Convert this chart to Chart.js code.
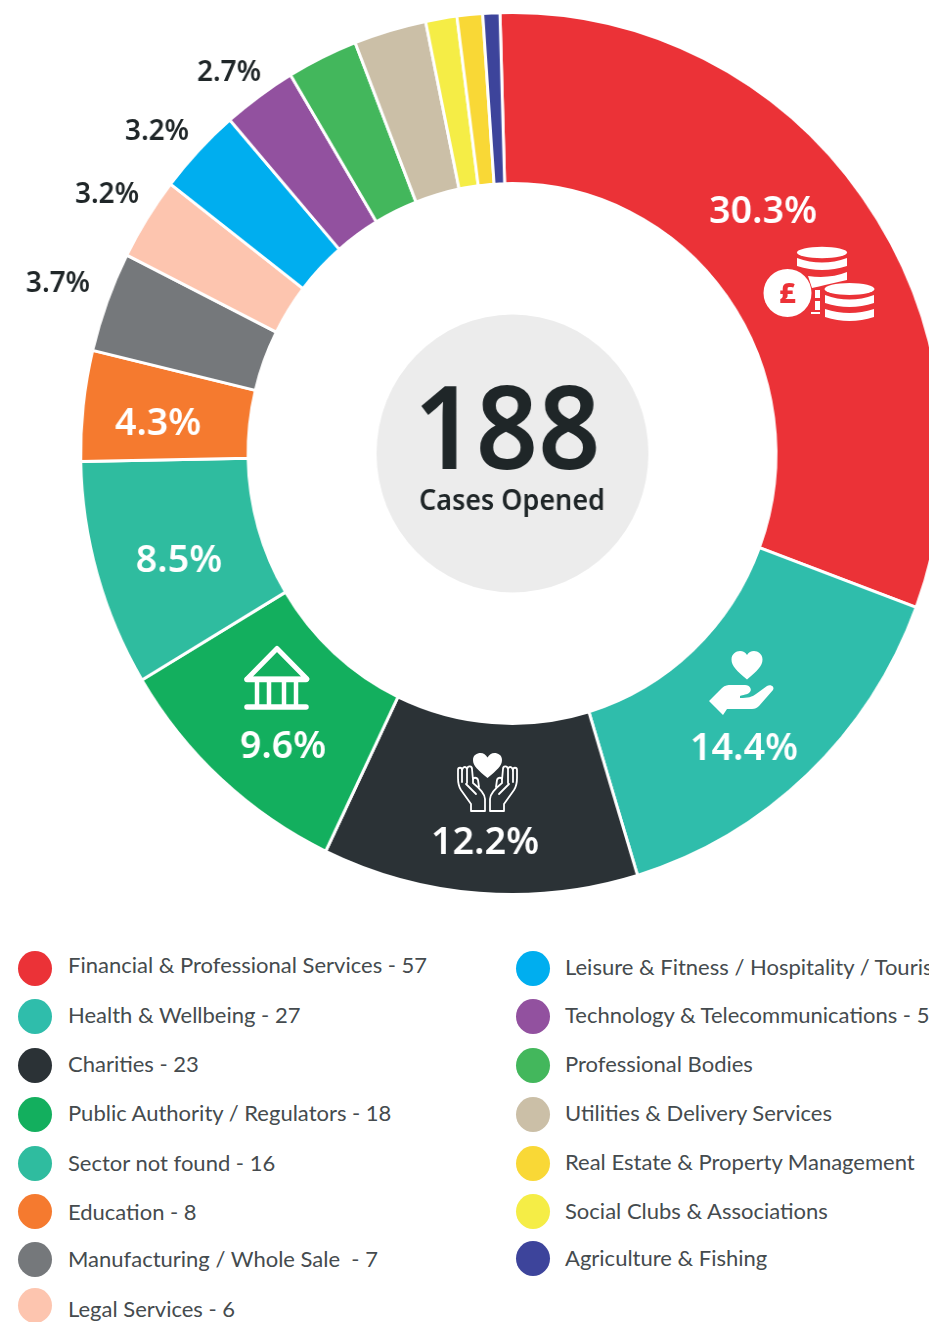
<!DOCTYPE html>
<html>
<head>
<meta charset="utf-8">
<title>Cases Opened</title>
<script src="https://cdn.jsdelivr.net/npm/chart.js@4/dist/chart.umd.min.js"></script>
<style>
    html, body { margin: 0; padding: 0; background: #fff; width: 929px; height: 1322px; overflow: hidden; }
    #stage { position: relative; width: 929px; height: 1322px; overflow: hidden; }
    /* the reference ring is slightly squashed sideways */
    #myChart { position: absolute; left: 0; top: 0; transform-origin: 0 0; transform: scaleX(0.978); }
    #icons { position: absolute; left: 0; top: 0; }
    .legend-dot { position: absolute; width: 34px; height: 35px; border-radius: 50%; }
    .legend-text { position: absolute; font: 400 22px Lato, "Noto Sans", sans-serif; color: #454b4e; white-space: pre; transform: translateY(-50%); }
</style>
</head>
<body>
<div id="stage">
    <canvas id="myChart" width="1047" height="907"></canvas>
    <svg id="icons" width="929" height="907" fill="#fff">
        <!-- coins -->
        <g>
            <ellipse cx="822" cy="252.5" rx="25" ry="5.8"/>
            <path d="M797 258 Q822 267 847 258 V266 Q822 274 797 266Z"/>
            <path d="M808 276 Q830 279 847 272 V280 Q825 285 812 288Z"/>
            <path d="M815 290 h5 v8 h-5Z M815 301 h5 v9 h-5Z M811 312 h9 v2 h-9Z"/>
            <ellipse cx="849.5" cy="289" rx="25" ry="6"/>
            <path d="M825 295 Q849.5 304 874 295 V303 Q849.5 311 825 303Z"/>
            <path d="M825 309 Q849.5 317 874 309 V317 Q849.5 325 825 317Z"/>
            <circle cx="787.5" cy="293" r="24"/>
        </g>
        <text x="787.5" y="303" text-anchor="middle" font-family="'Noto Sans'" font-weight="800" font-size="29" fill="#EC3237">£</text>
        <!-- temple -->
        <g>
            <path d="M247 679 L277 648.5 L307 679Z" fill="none" stroke="#fff" stroke-width="5" stroke-linejoin="round"/>
            <path d="M247 679.5 H306" stroke="#fff" stroke-width="5.5" stroke-linecap="round"/>
            <path d="M247 707 H306" stroke="#fff" stroke-width="5.5" stroke-linecap="round"/>
            <path d="M257 681 V705 M269 681 V705 M284 681 V705 M296 681 V705" stroke="#fff" stroke-width="4.5"/>
        </g>
        <!-- open hands with heart -->
        <g>
            <path d="M487.5 778 C478 770 473 766 473 760 C473 755 477 753 480.5 753 C483.5 753 486 755 487.5 757.5 C489 755 491.5 753 494.5 753 C498 753 502 755 502 760 C502 766 497 770 487.5 778Z"/>
            <path d="M485 811 V799 C485 794 478 787 473 783 L473 780 M485 811 H471 V804 L461 790 C459 787 458 783 458 778 V770 C458 767 462 767 462 770 V782 M462 772 C462 766 466 766 467 769 V783 M467 769 C468 765 472 766 472 769 L473 780 C473 777 477 777 478 780 L479 787 M466 784 L476 794"
                  fill="none" stroke="#fff" stroke-width="1.8" stroke-linejoin="round" stroke-linecap="round"/>
            <path d="M490 811 V799 C490 794 497 787 502 783 L502 780 M490 811 H504 V804 L514 790 C516 787 517 783 517 778 V770 C517 767 513 767 513 770 V782 M513 772 C513 766 509 766 508 769 V783 M508 769 C507 765 503 766 503 769 L502 780 C502 777 498 777 497 780 L496 787 M509 784 L499 794"
                  fill="none" stroke="#fff" stroke-width="1.8" stroke-linejoin="round" stroke-linecap="round"/>
        </g>
        <!-- hand with heart -->
        <g>
            <path d="M747 679.5 C737 671 731.5 666 731.5 659.5 C731.5 654 736 651 740 651 C743 651 745.5 652.5 747 655 C748.5 652.5 751 651 754 651 C758 651 762.5 654 762.5 659.5 C762.5 666 757 671 747 679.5Z"/>
            <path d="M709 701 L722 688 C725 685 728 685 731 685 H745 C750 685 753 690 749 693 C746 695 741 695 740 696 V698 C748 698 752 697 756 694 L767 686 C771 684 775 687 773 690 L759 706 C757 708 755 709 752 709 H727 L723 715Z"/>
        </g>
    </svg>
</div>
<script>
const categories = ['Financial & Professional Services', 'Health & Wellbeing', 'Charities', 'Public Authority / Regulators',
    'Sector not found', 'Education', 'Manufacturing / Whole Sale ', 'Legal Services',
    'Leisure & Fitness / Hospitality / Tourism', 'Technology & Telecommunications', 'Professional Bodies',
    'Utilities & Delivery Services', 'Social Clubs & Associations', 'Real Estate & Property Management', 'Agriculture & Fishing'];
// counts as printed on the legend (the last five print none)
const legendCounts = [57, 27, 23, 18, 16, 8, 7, 6, 6, 5, null, null, null, null, null];
// slice sizes as measured on the ring, in cases: the picture does not quite follow its own counts
const sliceSizes = [58.5, 27.5, 22.2, 17.5, 15.6, 7.6, 6.9, 5.7, 6.0, 5.2, 5.0, 5.1, 2.2, 1.8, 1.2];
const sliceColors = ['#EB3237', '#2FBDAB', '#2B3236', '#13AF5E', '#2FBC9F', '#F57A2F', '#75787B', '#FDC5AF',
    '#00AEEF', '#92519F', '#43B75C', '#CBBFA7', '#F5ED46', '#F9D836', '#3D449B'];
const percentLabels = ['30.3%', '14.4%', '12.2%', '9.6%', '8.5%', '4.3%', '3.7%', '3.2%', '3.2%', '2.7%'];
const legendColumnOne = [0, 1, 2, 3, 4, 5, 6, 7];
const legendColumnTwo = [8, 9, 10, 11, 13, 12, 14];

const squash = 0.978;
const centerTotal = '188';
const centerCaption = 'Cases Opened';

// page position of each percent label
const labelSpots = [[763, 212], [744, 749], [485, 843], [283, 747], [179, 561], [158, 424], [58, 284], [107, 195], [157, 132], [229, 73]];
const legendRowsOne = [[968, 964], [1016, 1014], [1065, 1063], [1114, 1112], [1163, 1162], [1211, 1211], [1259, 1258], [1305, 1308]];
const legendRowsTwo = [[968, 966], [1016, 1014], [1065, 1063], [1114, 1112], [1163, 1161], [1211, 1210], [1258, 1257]];

const ringOverlay = {
    id: 'ringOverlay',
    afterDraw(chart) {
        const ctx = chart.ctx;
        const arc = chart.getDatasetMeta(0).data[0];
        const cx = arc.x;
        const cy = arc.y;

        ctx.save();
        ctx.fillStyle = '#ECECEC';
        ctx.beginPath();
        ctx.arc(cx + 0.5, cy, 139, 0, Math.PI * 2);
        ctx.fill();

        ctx.textAlign = 'center';
        ctx.textBaseline = 'middle';
        ctx.fillStyle = '#1F2628';
        ctx.font = '600 116px "Noto Sans"';
        ctx.fillText(centerTotal, 507 / squash, 436, 191);
        ctx.font = '600 29px "Noto Sans"';
        ctx.fillText(centerCaption, 512 / squash, 502, 190);

        percentLabels.forEach(function (text, i) {
            const outside = i >= 6;
            ctx.fillStyle = outside ? '#1F2628' : '#fff';
            ctx.font = outside ? '600 28.5px "Noto Sans"' : '600 38.5px "Noto Sans"';
            ctx.fillText(text, labelSpots[i][0] / squash, labelSpots[i][1]);
        });
        ctx.restore();
    }
};

new Chart(document.getElementById('myChart'), {
    type: 'doughnut',
    data: {
        labels: categories,
        datasets: [{
            data: sliceSizes,
            backgroundColor: sliceColors,
            borderColor: '#fff',
            borderWidth: 3
        }]
    },
    options: {
        responsive: false,
        animation: false,
        rotation: -1.6,
        radius: 441,
        cutout: '61.2%',
        plugins: { legend: { display: false }, tooltip: { enabled: false } }
    },
    plugins: [ringOverlay]
});

function addLegend(order, rows, dotLeft, textLeft) {
    const stage = document.getElementById('stage');
    order.forEach(function (idx, i) {
        const dot = document.createElement('div');
        dot.className = 'legend-dot';
        dot.style.left = dotLeft + 'px';
        dot.style.top = (rows[i][0] - 17.5) + 'px';
        dot.style.background = sliceColors[idx];
        stage.appendChild(dot);

        const label = document.createElement('div');
        label.className = 'legend-text';
        label.style.left = textLeft + 'px';
        label.style.top = rows[i][1] + 'px';
        label.textContent = legendCounts[idx] === null ? categories[idx] : categories[idx] + ' - ' + legendCounts[idx];
        stage.appendChild(label);
    });
}

addLegend(legendColumnOne, legendRowsOne, 18, 68);
addLegend(legendColumnTwo, legendRowsTwo, 516, 565);
</script>
</body>
</html>
